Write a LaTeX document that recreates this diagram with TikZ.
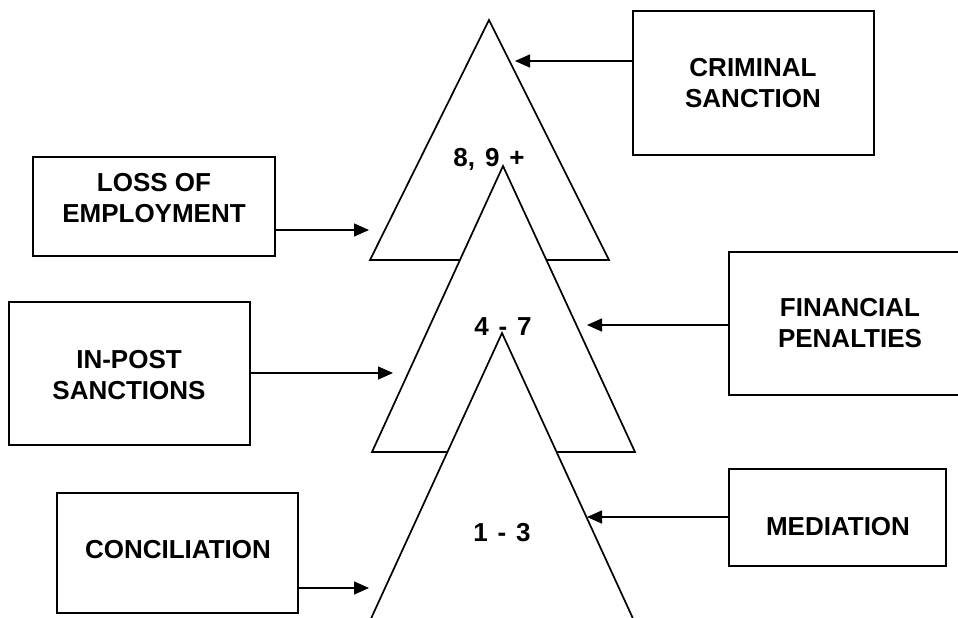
\documentclass[tikz,border=0pt]{standalone}
\usepackage{fontspec}
\setmainfont{Liberation Sans}
\usetikzlibrary{arrows.meta,calc}
\newcommand{\gapsp}{\hspace{0.38em}}
\begin{document}
\begin{tikzpicture}[x=1pt,y=-1pt,
  box/.style={draw=black,line width=1.7pt,rectangle,inner sep=0pt,fill=white},
  lbl/.style={font=\fontsize{26}{31}\selectfont\bfseries,align=center,inner sep=0pt},
  tri/.style={draw=black,line width=1.7pt,fill=white,line join=miter},
  arr/.style={line width=1.4pt,-{Triangle[length=15pt,width=13pt]}}]
\useasboundingbox (0,0) rectangle (958,618);
\clip (0,0) rectangle (958,618);
% triangles
\draw[tri] (489,20) -- (370,260) -- (609,260) -- cycle;
\draw[tri] (503,166) -- (372,452) -- (635,452) -- cycle;
\draw[tri] (502,333) -- (352,660) -- (652,660) -- cycle;
% level labels
\node[lbl] (l89) at (489,159) {8,\gapsp 9\gapsp +};
\node[lbl] (l47) at (503,327) {4\gapsp -\gapsp 7};
\node[lbl] (l13) at (502,533) {1\gapsp -\gapsp 3};
% boxes
\node[box,minimum width=241pt,minimum height=144pt] (crim) at (753.5,83) {};
\node[box,minimum width=242pt,minimum height=99pt] (loss) at (154,206.5) {};
\node[box,minimum width=241pt,minimum height=143pt] (inpost) at (129.5,373.5) {};
\node[box,minimum width=242pt,minimum height=143pt] (fin) at (850,323.5) {};
\node[box,minimum width=217pt,minimum height=97pt] (med) at (837.5,517.5) {};
\node[box,minimum width=241pt,minimum height=120pt] (conc) at (177.5,553) {};
% box texts
\node[lbl] (tcrim) at (753,83) {CRIMINAL\\SANCTION};
\node[lbl] (tloss) at (154,198) {LOSS OF\\EMPLOYMENT};
\node[lbl] (tinpost) at (129,375) {IN-POST\\SANCTIONS};
\node[lbl] (tfin) at (850,323) {FINANCIAL\\PENALTIES};
\node[lbl] (tmed) at (838,527) {MEDIATION};
\node[lbl] (tconc) at (178,550) {CONCILIATION};
% arrow end points
\coordinate (ecrim) at (515,61);
\coordinate (eloss) at (369,230);
\coordinate (einpost) at (393,373);
\coordinate (efin) at (587,325);
\coordinate (emed) at (587,517);
\coordinate (econc) at (369,588);
% connectors
\draw[arr] (ecrim -| crim.west) -- (ecrim);
\draw[arr] (eloss -| loss.east) -- (eloss);
\draw[arr] (einpost -| inpost.east) -- (einpost);
\draw[arr] (efin -| fin.west) -- (efin);
\draw[arr] (emed -| med.west) -- (emed);
\draw[arr] (econc -| conc.east) -- (econc);
\end{tikzpicture}
\end{document}
